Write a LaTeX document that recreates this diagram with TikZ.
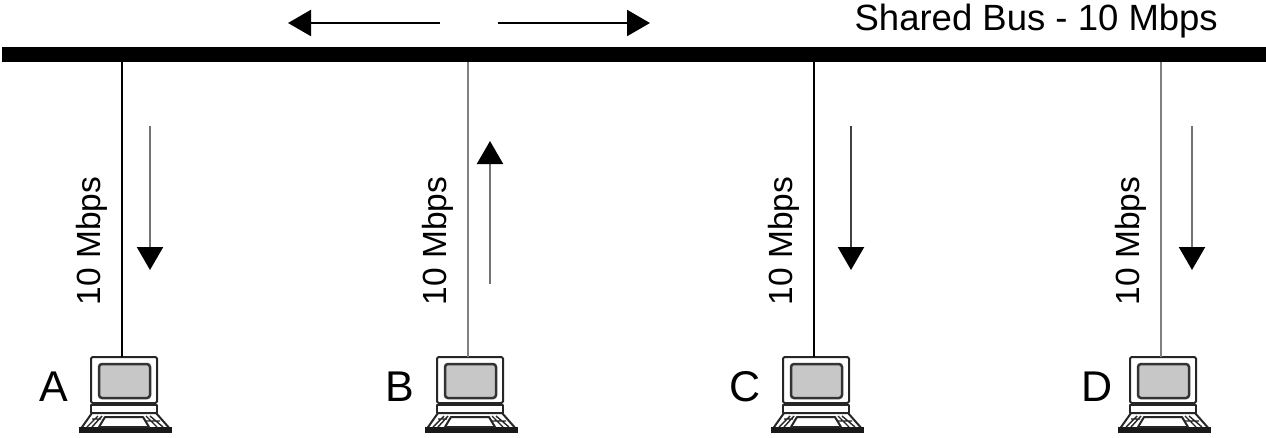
\documentclass[tikz,border=0pt]{standalone}
\usepackage{fontspec}
\setmainfont{Liberation Sans}
\usetikzlibrary{arrows.meta}
\tikzset{
  x=1pt,y=-1pt,
  lbl/.style={inner sep=0pt,font=\fontsize{43}{43}\selectfont},
  titlelbl/.style={inner sep=0pt,font=\fontsize{36.5}{36.5}\selectfont},
  ratelbl/.style={inner sep=0pt,rotate=90,font=\fontsize{33.5}{33.5}\selectfont},
  busline/.style={line width=15pt,black},
  drop/.style={line width=2pt},
  flow/.style={line width=2.2pt,-{Triangle[length=23pt,width=26pt,color=black,fill=black]}},
  pcline/.style={line width=2pt,draw=black!85,line join=round},
  pc/.pic={
    \draw[pcline,fill=white,rounded corners=1.5pt] (-31,-2) rectangle (35,44);
    \draw[line width=2.5pt,draw=black!80,fill=black!22,rounded corners=3pt] (-23,5) rectangle (28,39);
    \draw[pcline,fill=white] (-31,46) rectangle (35,54);
    \draw[pcline,fill=white] (-30,54) -- (34,54) -- (49,71) -- (-42,71) -- cycle;
    \fill[black!90] (-43,68) rectangle (50,74);
    \draw[pcline,fill=white] (-17,58) -- (21,58) -- (27,68) -- (-23,68) -- cycle;
    \draw[pcline,line width=1.4pt] (-24,57) -- (-35,68) (-20,57) -- (-30,68) (-30,60) -- (-21,60)
      (24,57) -- (35,68) (28,57) -- (41,68) (24,62) -- (38,62);
  }
}
\begin{document}
\begin{tikzpicture}
\useasboundingbox (0,0) rectangle (1266,437);
\coordinate (busL) at (2,54.5);
\coordinate (busR) at (1266,54.5);
\draw[busline] (busL) -- (busR);
\foreach \n/\x/\c/\l/\lx/\tx in {a/122/black/A/54/92, b/468/black!50/B/400/438, c/814/black/C/745/784, d/1161/black!50/D/1097/1131}{
  \coordinate (top\n) at (\x,62);
  \pic at (\x,359) {pc};
  \coordinate (pc\n) at (\x,357);
  \node[lbl] (lab\n) at (\lx,387) {\l};
  \draw[drop,draw=\c] (top\n) -- (pc\n);
  \node[ratelbl] (rate\n) at (\tx,241) {10 Mbps};
}
\node[titlelbl,anchor=east] (title) at (1218,21) {Shared Bus - 10 Mbps};
\coordinate (ls) at (440,23); \coordinate (le) at (288,23);
\coordinate (rs) at (498,23); \coordinate (re) at (650,23);
\draw[flow] (ls) -- (le);
\draw[flow] (rs) -- (re);
\coordinate (as) at (150,126); \coordinate (ae) at (150,270);
\coordinate (bs) at (490,284); \coordinate (be) at (490,141);
\coordinate (cs) at (851,126); \coordinate (ce) at (851,270);
\coordinate (ds) at (1192,126); \coordinate (de) at (1192,270);
\draw[flow,draw=black!55] (as) -- (ae);
\draw[flow,draw=black!55] (bs) -- (be);
\draw[flow,draw=black!75] (cs) -- (ce);
\draw[flow,draw=black!55] (ds) -- (de);
\end{tikzpicture}
\end{document}
